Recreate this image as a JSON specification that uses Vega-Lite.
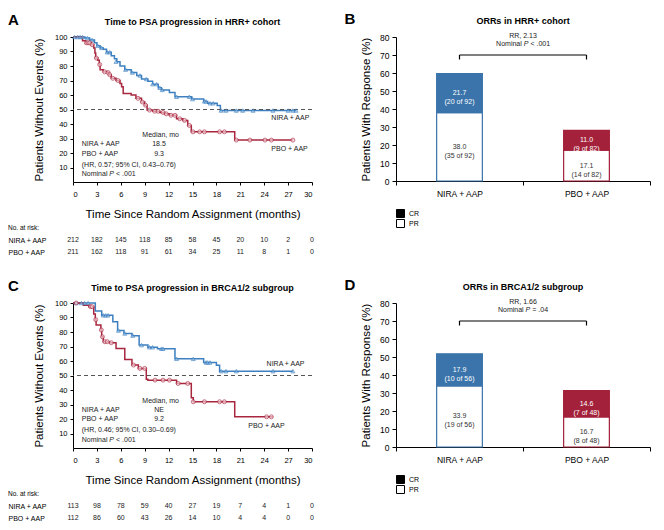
{
 "$schema": "https://vega.github.io/schema/vega-lite/v6.json",
 "padding": {"left": 8, "top": 12, "right": 4, "bottom": 4},
 "background": "white",
 "config": {
  "font": "Liberation Sans",
  "view": {"stroke": null},
  "axis": {"grid": false, "domainColor": "#000", "tickColor": "#000", "labelColor": "#000", "titleColor": "#000", "titleFontWeight": "normal", "labelOverlap": false},
  "title": {"color": "#000"}
 },
 "datasets": {
  "kmA": [
   {"arm":"NIRA + AAP","t":0,"surv":100},{"arm":"NIRA + AAP","t":1.5,"surv":99.3},{"arm":"NIRA + AAP","t":2.1,"surv":98},{"arm":"NIRA + AAP","t":2.7,"surv":96},{"arm":"NIRA + AAP","t":3.0,"surv":94},{"arm":"NIRA + AAP","t":3.4,"surv":92.5},{"arm":"NIRA + AAP","t":3.8,"surv":91.5},{"arm":"NIRA + AAP","t":4.2,"surv":89.5},{"arm":"NIRA + AAP","t":4.8,"surv":87},{"arm":"NIRA + AAP","t":5.2,"surv":85},{"arm":"NIRA + AAP","t":5.5,"surv":83},{"arm":"NIRA + AAP","t":5.9,"surv":80},{"arm":"NIRA + AAP","t":6.5,"surv":77.5},{"arm":"NIRA + AAP","t":7.3,"surv":75.5},{"arm":"NIRA + AAP","t":8.0,"surv":73.5},{"arm":"NIRA + AAP","t":8.6,"surv":71},{"arm":"NIRA + AAP","t":9.4,"surv":69.5},{"arm":"NIRA + AAP","t":10.0,"surv":67.5},{"arm":"NIRA + AAP","t":10.7,"surv":65},{"arm":"NIRA + AAP","t":11.1,"surv":63.5},{"arm":"NIRA + AAP","t":12.1,"surv":61.8},{"arm":"NIRA + AAP","t":12.8,"surv":58.8},{"arm":"NIRA + AAP","t":14.9,"surv":57.2},{"arm":"NIRA + AAP","t":16.4,"surv":55.6},{"arm":"NIRA + AAP","t":16.9,"surv":54.3},{"arm":"NIRA + AAP","t":18.1,"surv":52.8},{"arm":"NIRA + AAP","t":18.5,"surv":49.3},{"arm":"NIRA + AAP","t":28.0,"surv":49.3},
   {"arm":"PBO + AAP","t":0,"surv":100},{"arm":"PBO + AAP","t":1.2,"surv":97.5},{"arm":"PBO + AAP","t":1.6,"surv":96},{"arm":"PBO + AAP","t":2.3,"surv":94.7},{"arm":"PBO + AAP","t":2.6,"surv":92.5},{"arm":"PBO + AAP","t":2.75,"surv":89},{"arm":"PBO + AAP","t":2.85,"surv":85.5},{"arm":"PBO + AAP","t":3.1,"surv":84},{"arm":"PBO + AAP","t":3.3,"surv":81},{"arm":"PBO + AAP","t":3.4,"surv":77.4},{"arm":"PBO + AAP","t":3.8,"surv":76},{"arm":"PBO + AAP","t":4.3,"surv":75.5},{"arm":"PBO + AAP","t":4.5,"surv":74},{"arm":"PBO + AAP","t":4.8,"surv":71.5},{"arm":"PBO + AAP","t":5.4,"surv":70},{"arm":"PBO + AAP","t":5.9,"surv":68},{"arm":"PBO + AAP","t":6.1,"surv":65.7},{"arm":"PBO + AAP","t":6.3,"surv":61},{"arm":"PBO + AAP","t":7.3,"surv":60},{"arm":"PBO + AAP","t":7.9,"surv":57.7},{"arm":"PBO + AAP","t":8.6,"surv":55.2},{"arm":"PBO + AAP","t":9.0,"surv":53},{"arm":"PBO + AAP","t":9.3,"surv":49.6},{"arm":"PBO + AAP","t":10.0,"surv":48.8},{"arm":"PBO + AAP","t":10.9,"surv":48},{"arm":"PBO + AAP","t":11.5,"surv":47},{"arm":"PBO + AAP","t":12.1,"surv":46},{"arm":"PBO + AAP","t":13.0,"surv":43.6},{"arm":"PBO + AAP","t":13.8,"surv":42.5},{"arm":"PBO + AAP","t":14.4,"surv":39},{"arm":"PBO + AAP","t":14.85,"surv":34.6},{"arm":"PBO + AAP","t":20.3,"surv":28.9},{"arm":"PBO + AAP","t":27.6,"surv":28.9}
  ],
  "cenA": [
   {"arm":"NIRA + AAP","t":0.2,"surv":100},{"arm":"NIRA + AAP","t":0.6,"surv":100},{"arm":"NIRA + AAP","t":0.9,"surv":100},{"arm":"NIRA + AAP","t":1.2,"surv":100},{"arm":"NIRA + AAP","t":1.8,"surv":99.3},{"arm":"NIRA + AAP","t":2.4,"surv":98},{"arm":"NIRA + AAP","t":3.1,"surv":94},{"arm":"NIRA + AAP","t":3.6,"surv":92.5},{"arm":"NIRA + AAP","t":4.3,"surv":89.5},{"arm":"NIRA + AAP","t":4.6,"surv":89.5},{"arm":"NIRA + AAP","t":5.4,"surv":83},{"arm":"NIRA + AAP","t":6.6,"surv":77.5},{"arm":"NIRA + AAP","t":7.45,"surv":75.5},{"arm":"NIRA + AAP","t":8.4,"surv":73.5},{"arm":"NIRA + AAP","t":9.2,"surv":71},{"arm":"NIRA + AAP","t":10.0,"surv":67.5},{"arm":"NIRA + AAP","t":10.5,"surv":67.5},{"arm":"NIRA + AAP","t":10.9,"surv":65},{"arm":"NIRA + AAP","t":11.2,"surv":63.5},{"arm":"NIRA + AAP","t":13.0,"surv":58.8},{"arm":"NIRA + AAP","t":14.6,"surv":58.8},{"arm":"NIRA + AAP","t":15.0,"surv":57.2},{"arm":"NIRA + AAP","t":16.5,"surv":55.6},{"arm":"NIRA + AAP","t":16.7,"surv":55.6},{"arm":"NIRA + AAP","t":17.2,"surv":54.3},{"arm":"NIRA + AAP","t":17.6,"surv":54.3},{"arm":"NIRA + AAP","t":18.6,"surv":49.3},{"arm":"NIRA + AAP","t":19.2,"surv":49.3},{"arm":"NIRA + AAP","t":20.5,"surv":49.3},{"arm":"NIRA + AAP","t":21.3,"surv":49.3},{"arm":"NIRA + AAP","t":22.6,"surv":49.3},{"arm":"NIRA + AAP","t":25.1,"surv":49.3},{"arm":"NIRA + AAP","t":27.0,"surv":49.3},{"arm":"NIRA + AAP","t":27.6,"surv":49.3},{"arm":"NIRA + AAP","t":28.0,"surv":49.3},
   {"arm":"PBO + AAP","t":1.67,"surv":96},{"arm":"PBO + AAP","t":1.88,"surv":96},{"arm":"PBO + AAP","t":2.1,"surv":96},{"arm":"PBO + AAP","t":2.4,"surv":94.7},{"arm":"PBO + AAP","t":2.93,"surv":85.5},{"arm":"PBO + AAP","t":3.35,"surv":81},{"arm":"PBO + AAP","t":3.97,"surv":76},{"arm":"PBO + AAP","t":4.4,"surv":75.5},{"arm":"PBO + AAP","t":4.6,"surv":74},{"arm":"PBO + AAP","t":5.0,"surv":71.5},{"arm":"PBO + AAP","t":5.65,"surv":70},{"arm":"PBO + AAP","t":8.16,"surv":57.7},{"arm":"PBO + AAP","t":8.7,"surv":55.2},{"arm":"PBO + AAP","t":9.1,"surv":53},{"arm":"PBO + AAP","t":9.6,"surv":49.6},{"arm":"PBO + AAP","t":10.25,"surv":48.8},{"arm":"PBO + AAP","t":10.67,"surv":48.8},{"arm":"PBO + AAP","t":11.3,"surv":48},{"arm":"PBO + AAP","t":11.7,"surv":47},{"arm":"PBO + AAP","t":12.3,"surv":46},{"arm":"PBO + AAP","t":12.8,"surv":46},{"arm":"PBO + AAP","t":13.4,"surv":43.6},{"arm":"PBO + AAP","t":14.0,"surv":42.5},{"arm":"PBO + AAP","t":14.6,"surv":39},{"arm":"PBO + AAP","t":15.06,"surv":34.6},{"arm":"PBO + AAP","t":15.9,"surv":34.6},{"arm":"PBO + AAP","t":16.5,"surv":34.6},{"arm":"PBO + AAP","t":18.4,"surv":34.6},{"arm":"PBO + AAP","t":19.0,"surv":34.6},{"arm":"PBO + AAP","t":20.5,"surv":28.9},{"arm":"PBO + AAP","t":22.2,"surv":28.9},{"arm":"PBO + AAP","t":24.1,"surv":28.9},{"arm":"PBO + AAP","t":24.9,"surv":28.9},{"arm":"PBO + AAP","t":27.6,"surv":28.9}
  ],
  "kmC": [
   {"arm":"NIRA + AAP","t":0,"surv":100},{"arm":"NIRA + AAP","t":2.8,"surv":94.5},{"arm":"NIRA + AAP","t":3.6,"surv":91.5},{"arm":"NIRA + AAP","t":5.0,"surv":87},{"arm":"NIRA + AAP","t":5.6,"surv":81},{"arm":"NIRA + AAP","t":6.4,"surv":79},{"arm":"NIRA + AAP","t":7.4,"surv":77.5},{"arm":"NIRA + AAP","t":8.3,"surv":71},{"arm":"NIRA + AAP","t":9.4,"surv":69.5},{"arm":"NIRA + AAP","t":10.6,"surv":68.5},{"arm":"NIRA + AAP","t":12.8,"surv":61.5},{"arm":"NIRA + AAP","t":16.4,"surv":59},{"arm":"NIRA + AAP","t":18.0,"surv":57},{"arm":"NIRA + AAP","t":18.4,"surv":53},{"arm":"NIRA + AAP","t":27.6,"surv":53},
   {"arm":"PBO + AAP","t":0,"surv":100},{"arm":"PBO + AAP","t":1.3,"surv":98.5},{"arm":"PBO + AAP","t":2.0,"surv":97.5},{"arm":"PBO + AAP","t":2.6,"surv":92.5},{"arm":"PBO + AAP","t":2.8,"surv":88.5},{"arm":"PBO + AAP","t":2.9,"surv":84.8},{"arm":"PBO + AAP","t":3.5,"surv":81.4},{"arm":"PBO + AAP","t":3.6,"surv":76.7},{"arm":"PBO + AAP","t":3.8,"surv":73.3},{"arm":"PBO + AAP","t":4.6,"surv":72.6},{"arm":"PBO + AAP","t":5.4,"surv":68.7},{"arm":"PBO + AAP","t":6.5,"surv":61},{"arm":"PBO + AAP","t":7.4,"surv":57.2},{"arm":"PBO + AAP","t":8.2,"surv":54.9},{"arm":"PBO + AAP","t":9.2,"surv":47.5},{"arm":"PBO + AAP","t":9.4,"surv":46.8},{"arm":"PBO + AAP","t":13.0,"surv":44.5},{"arm":"PBO + AAP","t":14.85,"surv":34.6},{"arm":"PBO + AAP","t":15.1,"surv":31.9},{"arm":"PBO + AAP","t":20.3,"surv":21.5},{"arm":"PBO + AAP","t":25.1,"surv":21.5}
  ],
  "cenC": [
   {"arm":"NIRA + AAP","t":0.4,"surv":100},{"arm":"NIRA + AAP","t":1.05,"surv":100},{"arm":"NIRA + AAP","t":1.46,"surv":100},{"arm":"NIRA + AAP","t":1.9,"surv":100},{"arm":"NIRA + AAP","t":3.8,"surv":91.5},{"arm":"NIRA + AAP","t":4.1,"surv":91.5},{"arm":"NIRA + AAP","t":4.4,"surv":91.5},{"arm":"NIRA + AAP","t":5.7,"surv":81},{"arm":"NIRA + AAP","t":6.5,"surv":79},{"arm":"NIRA + AAP","t":7.5,"surv":77.5},{"arm":"NIRA + AAP","t":8.6,"surv":71},{"arm":"NIRA + AAP","t":9.6,"surv":69.5},{"arm":"NIRA + AAP","t":10.0,"surv":69.5},{"arm":"NIRA + AAP","t":11.1,"surv":68.5},{"arm":"NIRA + AAP","t":11.3,"surv":68.5},{"arm":"NIRA + AAP","t":13.0,"surv":61.5},{"arm":"NIRA + AAP","t":15.1,"surv":61.5},{"arm":"NIRA + AAP","t":16.7,"surv":59},{"arm":"NIRA + AAP","t":16.9,"surv":59},{"arm":"NIRA + AAP","t":17.2,"surv":59},{"arm":"NIRA + AAP","t":18.6,"surv":53},{"arm":"NIRA + AAP","t":19.2,"surv":53},{"arm":"NIRA + AAP","t":20.5,"surv":53},{"arm":"NIRA + AAP","t":25.1,"surv":53},{"arm":"NIRA + AAP","t":27.6,"surv":53},
   {"arm":"PBO + AAP","t":0.4,"surv":100},{"arm":"PBO + AAP","t":2.2,"surv":97.5},{"arm":"PBO + AAP","t":2.4,"surv":97.5},{"arm":"PBO + AAP","t":2.85,"surv":88.5},{"arm":"PBO + AAP","t":3.55,"surv":81.4},{"arm":"PBO + AAP","t":3.7,"surv":76.7},{"arm":"PBO + AAP","t":4.0,"surv":73.3},{"arm":"PBO + AAP","t":4.3,"surv":73.3},{"arm":"PBO + AAP","t":4.8,"surv":72.6},{"arm":"PBO + AAP","t":7.6,"surv":57.2},{"arm":"PBO + AAP","t":8.4,"surv":54.9},{"arm":"PBO + AAP","t":9.0,"surv":54.9},{"arm":"PBO + AAP","t":10.3,"surv":46.8},{"arm":"PBO + AAP","t":11.3,"surv":46.8},{"arm":"PBO + AAP","t":12.1,"surv":46.8},{"arm":"PBO + AAP","t":13.2,"surv":44.5},{"arm":"PBO + AAP","t":14.4,"surv":44.5},{"arm":"PBO + AAP","t":15.1,"surv":31.9},{"arm":"PBO + AAP","t":16.5,"surv":31.9},{"arm":"PBO + AAP","t":18.4,"surv":31.9},{"arm":"PBO + AAP","t":19.0,"surv":31.9},{"arm":"PBO + AAP","t":24.3,"surv":21.5},{"arm":"PBO + AAP","t":24.9,"surv":21.5}
  ],
  "annA": [
   {"t":1.1,"pct":26.5,"txt":"NIRA + AAP"},{"t":1.1,"pct":19.5,"txt":"PBO + AAP"},{"t":1.1,"pct":12,"txt":"(HR, 0.57; 95% CI, 0.43–0.76)"},{"t":1.1,"pct":5.2,"txt":"Nominal"},{"t":24.9,"pct":43.8,"txt":"NIRA + AAP"},{"t":24.9,"pct":22.9,"txt":"PBO + AAP"}
  ],
  "medA": [
   {"t":11.0,"pct":32.5,"txt":"Median, mo"},{"t":10.8,"pct":26.5,"txt":"18.5"},{"t":10.8,"pct":19.5,"txt":"9.3"}
  ],
  "annC": [
   {"t":1.1,"pct":26,"txt":"NIRA + AAP"},{"t":1.1,"pct":19.7,"txt":"PBO + AAP"},{"t":1.1,"pct":12.3,"txt":"(HR, 0.46; 95% CI, 0.30–0.69)"},{"t":1.1,"pct":5.7,"txt":"Nominal"},{"t":24.3,"pct":58,"txt":"NIRA + AAP"},{"t":22.0,"pct":15,"txt":"PBO + AAP"}
  ],
  "medC": [
   {"t":11.0,"pct":32.3,"txt":"Median, mo"},{"t":10.8,"pct":26,"txt":"NE"},{"t":10.8,"pct":19.7,"txt":"9.2"}
  ],
  "riskA": [
   {"arm":"NIRA + AAP","t":0,"n":212},{"arm":"NIRA + AAP","t":3,"n":182},{"arm":"NIRA + AAP","t":6,"n":145},{"arm":"NIRA + AAP","t":9,"n":118},{"arm":"NIRA + AAP","t":12,"n":85},{"arm":"NIRA + AAP","t":15,"n":58},{"arm":"NIRA + AAP","t":18,"n":45},{"arm":"NIRA + AAP","t":21,"n":20},{"arm":"NIRA + AAP","t":24,"n":10},{"arm":"NIRA + AAP","t":27,"n":2},{"arm":"NIRA + AAP","t":30,"n":0},
   {"arm":"PBO + AAP","t":0,"n":211},{"arm":"PBO + AAP","t":3,"n":162},{"arm":"PBO + AAP","t":6,"n":118},{"arm":"PBO + AAP","t":9,"n":91},{"arm":"PBO + AAP","t":12,"n":61},{"arm":"PBO + AAP","t":15,"n":34},{"arm":"PBO + AAP","t":18,"n":25},{"arm":"PBO + AAP","t":21,"n":11},{"arm":"PBO + AAP","t":24,"n":8},{"arm":"PBO + AAP","t":27,"n":1},{"arm":"PBO + AAP","t":30,"n":0}
  ],
  "riskC": [
   {"arm":"NIRA + AAP","t":0,"n":113},{"arm":"NIRA + AAP","t":3,"n":98},{"arm":"NIRA + AAP","t":6,"n":78},{"arm":"NIRA + AAP","t":9,"n":59},{"arm":"NIRA + AAP","t":12,"n":40},{"arm":"NIRA + AAP","t":15,"n":27},{"arm":"NIRA + AAP","t":18,"n":19},{"arm":"NIRA + AAP","t":21,"n":7},{"arm":"NIRA + AAP","t":24,"n":4},{"arm":"NIRA + AAP","t":27,"n":1},{"arm":"NIRA + AAP","t":30,"n":0},
   {"arm":"PBO + AAP","t":0,"n":112},{"arm":"PBO + AAP","t":3,"n":86},{"arm":"PBO + AAP","t":6,"n":60},{"arm":"PBO + AAP","t":9,"n":43},{"arm":"PBO + AAP","t":12,"n":26},{"arm":"PBO + AAP","t":15,"n":14},{"arm":"PBO + AAP","t":18,"n":10},{"arm":"PBO + AAP","t":21,"n":4},{"arm":"PBO + AAP","t":24,"n":4},{"arm":"PBO + AAP","t":27,"n":0},{"arm":"PBO + AAP","t":30,"n":0}
  ],
  "orrB": [
   {"arm":"NIRA + AAP","resp":"PR","pct":38.0,"label":"38.0\n(35 of 92)"},
   {"arm":"NIRA + AAP","resp":"CR","pct":21.7,"label":"21.7\n(20 of 92)"},
   {"arm":"PBO + AAP","resp":"PR","pct":17.1,"label":"17.1\n(14 of 82)"},
   {"arm":"PBO + AAP","resp":"CR","pct":11.0,"label":"11.0\n(9 of 82)"}
  ],
  "orrD": [
   {"arm":"NIRA + AAP","resp":"PR","pct":33.9,"label":"33.9\n(19 of 56)"},
   {"arm":"NIRA + AAP","resp":"CR","pct":17.9,"label":"17.9\n(10 of 56)"},
   {"arm":"PBO + AAP","resp":"PR","pct":16.7,"label":"16.7\n(8 of 48)"},
   {"arm":"PBO + AAP","resp":"CR","pct":14.6,"label":"14.6\n(7 of 48)"}
  ]
 },
 "columns": 2,
 "spacing": {"row": 20, "column": 30},
 "resolve": {"scale": {"x": "independent", "y": "independent", "color": "independent", "fill": "independent", "stroke": "independent", "shape": "independent"}, "axis": {"x": "independent", "y": "independent"}, "legend": {"color": "independent"}},
 "concat": [
  {
   "title": {"text": "A", "anchor": "start", "frame": "bounds", "fontSize": 15, "fontWeight": "bold", "offset": 0, "dy": 10},
   "spacing": 4,
   "resolve": {"scale": {"x": "independent", "y": "independent"}, "axis": {"x": "independent", "y": "independent"}},
   "vconcat": [
    {
     "width": 239, "height": 145,
     "title": {"text": "Time to PSA progression in HRR+ cohort", "fontSize": 9, "fontWeight": "bold", "offset": 6},
     "layer": [
      {"data": {"name": "kmA"}, "mark": {"type": "line", "interpolate": "step-after", "strokeWidth": 1.5},
       "encoding": {
        "x": {"field": "t", "type": "quantitative", "scale": {"domain": [0, 30], "nice": false}, "axis": {"values": [0,3,6,9,12,15,18,21,24,27,30], "tickCount": 30, "labelOverlap": false, "title": "Time Since Random Assignment (months)", "titleFontSize": 11.5, "titleFontWeight": "normal", "labelFontSize": 7.5, "tickSize": 3, "labelPadding": 5, "titlePadding": 11}},
        "y": {"field": "surv", "type": "quantitative", "scale": {"domain": [0, 100]}, "axis": {"values": [10,20,30,40,50,60,70,80,90,100], "tickCount": 30, "labelOverlap": false, "title": "Patients Without Events (%)", "titleFontSize": 11.5, "titleFontWeight": "normal", "labelFontSize": 7.5, "tickSize": 3, "labelPadding": 3, "titlePadding": 10}},
        "color": {"field": "arm", "type": "nominal", "scale": {"domain": ["NIRA + AAP", "PBO + AAP"], "range": ["#3d7fbf", "#a8273f"]}, "legend": null}
       }},
      {"data": {"values": [{"ref": 50}]}, "mark": {"type": "rule", "color": "#555", "strokeDash": [4, 3], "strokeWidth": 1}, "encoding": {"y": {"field": "ref", "type": "quantitative"}}},
      {"data": {"name": "cenA"}, "mark": {"type": "point", "filled": true, "size": 16, "strokeWidth": 0.9},
       "encoding": {
        "x": {"field": "t", "type": "quantitative"},
        "y": {"field": "surv", "type": "quantitative"},
        "shape": {"field": "arm", "type": "nominal", "scale": {"domain": ["NIRA + AAP", "PBO + AAP"], "range": ["triangle-up", "circle"]}, "legend": null},
        "fill": {"field": "arm", "type": "nominal", "scale": {"domain": ["NIRA + AAP", "PBO + AAP"], "range": ["#8fbde3", "#f3d0d7"]}, "legend": null},
        "stroke": {"field": "arm", "type": "nominal", "scale": {"domain": ["NIRA + AAP", "PBO + AAP"], "range": ["#3d7fbf", "#a8273f"]}, "legend": null}
       }},
      {"data": {"name": "annA"}, "mark": {"type": "text", "align": "left", "baseline": "middle", "fontSize": 7, "color": "#222"},
       "encoding": {"x": {"field": "t", "type": "quantitative"}, "y": {"field": "pct", "type": "quantitative"}, "text": {"field": "txt"}}},
      {"data": {"values": [{"txt": "P"}]}, "mark": {"type": "text", "align": "left", "baseline": "middle", "fontSize": 7, "fontStyle": "italic", "color": "#222", "dx": 27.6},
       "encoding": {"x": {"datum": 1.1, "type": "quantitative"}, "y": {"datum": 5.2, "type": "quantitative"}, "text": {"field": "txt"}}},
      {"data": {"values": [{"txt": "< .001"}]}, "mark": {"type": "text", "align": "left", "baseline": "middle", "fontSize": 7, "color": "#222", "dx": 34.3},
       "encoding": {"x": {"datum": 1.1, "type": "quantitative"}, "y": {"datum": 5.2, "type": "quantitative"}, "text": {"field": "txt"}}},
      {"data": {"name": "medA"}, "mark": {"type": "text", "align": "center", "baseline": "middle", "fontSize": 7, "color": "#222"},
       "encoding": {"x": {"field": "t", "type": "quantitative"}, "y": {"field": "pct", "type": "quantitative"}, "text": {"field": "txt"}}}
     ]
    },
    {
     "width": 239, "height": 24,
     "title": {"text": "No. at risk:", "anchor": "start", "frame": "bounds", "fontSize": 6.5, "fontWeight": "normal", "offset": 3},
     "data": {"name": "riskA"},
     "mark": {"type": "text", "fontSize": 7, "color": "#222"},
     "encoding": {
      "x": {"field": "t", "type": "quantitative", "scale": {"domain": [0, 30], "nice": false}, "axis": null},
      "y": {"field": "arm", "type": "nominal", "scale": {"domain": ["NIRA + AAP", "PBO + AAP"]}, "axis": {"title": null, "domain": false, "ticks": false, "labelAlign": "left", "labelPadding": 65, "labelFontSize": 7}},
      "text": {"field": "n"}
     }
    }
   ]
  },
  {
   "title": {"text": "B", "anchor": "start", "frame": "bounds", "fontSize": 15, "fontWeight": "bold", "offset": 0, "dy": 10, "dx": -16},
   "resolve": {"legend": {"color": "independent"}, "scale": {"color": "independent"}},
   "vconcat": [
    {
     "width": 254, "height": 144,
     "title": {"text": "ORRs in HRR+ cohort", "fontSize": 9, "fontWeight": "bold", "offset": 6},
     "layer": [
      {"data": {"name": "orrB"}, "mark": {"type": "bar", "width": {"band": 0.36}, "strokeWidth": 1.2},
       "encoding": {
        "x": {"field": "arm", "type": "nominal", "scale": {"domain": ["NIRA + AAP", "PBO + AAP"], "paddingInner": 0, "paddingOuter": 0}, "axis": {"title": null, "labelAngle": 0, "labelFontSize": 8.5, "tickBand": "extent", "tickSize": 4, "labelPadding": 4}},
        "y": {"field": "pct", "type": "quantitative", "stack": "zero", "scale": {"domain": [0, 80]}, "axis": {"values": [0,10,20,30,40,50,60,70,80], "tickCount": 30, "labelOverlap": false, "title": "Patients With Response (%)", "titleFontSize": 11.5, "titleFontWeight": "normal", "labelFontSize": 8.5, "tickSize": 4, "labelPadding": 3, "titlePadding": 8}},
        "order": {"field": "resp", "sort": "descending"},
        "fill": {"condition": {"test": "datum.resp === 'PR'", "value": "white"}, "field": "arm", "type": "nominal", "scale": {"domain": ["NIRA + AAP", "PBO + AAP"], "range": ["#3a74ab", "#a3213a"]}, "legend": null},
        "stroke": {"field": "arm", "type": "nominal", "scale": {"domain": ["NIRA + AAP", "PBO + AAP"], "range": ["#3a74ab", "#a3213a"]}, "legend": null}
       }},
      {"data": {"name": "orrB"},
       "transform": [
        {"stack": "pct", "groupby": ["arm"], "sort": [{"field": "resp", "order": "descending"}], "as": ["y0", "y1"]},
        {"fold": ["y0", "y1"], "as": ["edge", "yv"]},
        {"aggregate": [{"op": "mean", "field": "yv", "as": "ymid"}], "groupby": ["arm", "resp", "label"]}
       ],
       "mark": {"type": "text", "fontSize": 7, "lineBreak": "\n", "lineHeight": 9, "baseline": "middle"},
       "encoding": {
        "x": {"field": "arm", "type": "nominal"},
        "y": {"field": "ymid", "type": "quantitative"},
        "text": {"field": "label"},
        "color": {"condition": {"test": "datum.resp === 'CR'", "value": "white"}, "value": "#333"}
       }},
      {"data": {"values": [{"lvl": 70}]}, "mark": {"type": "rule", "strokeWidth": 1.2, "color": "#000"},
       "encoding": {"x": {"datum": "NIRA + AAP", "type": "nominal"}, "x2": {"datum": "PBO + AAP"}, "y": {"field": "lvl", "type": "quantitative"}}},
      {"data": {"name": "orrB"}, "transform": [{"filter": "datum.resp === 'CR'"}], "mark": {"type": "rule", "strokeWidth": 1.2, "color": "#000"},
       "encoding": {"x": {"field": "arm", "type": "nominal"}, "y": {"datum": 67.5}, "y2": {"datum": 70}}},
      {"data": {"values": [{"txt": "RR, 2.13"}]}, "mark": {"type": "text", "fontSize": 7, "baseline": "middle", "color": "#222"},
       "encoding": {"x": {"datum": "NIRA + AAP", "type": "nominal", "bandPosition": 1}, "y": {"datum": 80.3}, "text": {"field": "txt"}}},
      {"data": {"values": [{"txt": "Nominal"}]}, "mark": {"type": "text", "fontSize": 7, "align": "left", "baseline": "middle", "color": "#222", "dx": -26.9},
       "encoding": {"x": {"datum": "NIRA + AAP", "type": "nominal", "bandPosition": 1}, "y": {"datum": 75.9}, "text": {"field": "txt"}}},
      {"data": {"values": [{"txt": "P"}]}, "mark": {"type": "text", "fontSize": 7, "align": "left", "baseline": "middle", "fontStyle": "italic", "color": "#222", "dx": 0.7},
       "encoding": {"x": {"datum": "NIRA + AAP", "type": "nominal", "bandPosition": 1}, "y": {"datum": 75.9}, "text": {"field": "txt"}}},
      {"data": {"values": [{"txt": "< .001"}]}, "mark": {"type": "text", "fontSize": 7, "align": "left", "baseline": "middle", "color": "#222", "dx": 7.4},
       "encoding": {"x": {"datum": "NIRA + AAP", "type": "nominal", "bandPosition": 1}, "y": {"datum": 75.9}, "text": {"field": "txt"}}},
      {"data": {"name": "orrB"}, "transform": [{"filter": "datum.resp === 'none'"}], "mark": {"type": "square", "stroke": "black", "strokeWidth": 1, "size": 64},
       "encoding": {"color": {"field": "resp", "type": "nominal", "scale": {"domain": ["CR", "PR"], "range": ["black", "white"]}, "legend": {"title": null, "orient": "bottom", "direction": "vertical", "symbolType": "square", "symbolSize": 64, "symbolStrokeColor": "black", "symbolStrokeWidth": 1, "symbolOpacity": 1, "labelFontSize": 7, "rowPadding": 1, "clipHeight": 9, "offset": 11, "padding": 0}}}}
     ]
    }
   ]
  },
  {
   "title": {"text": "C", "anchor": "start", "frame": "bounds", "fontSize": 15, "fontWeight": "bold", "offset": 0, "dy": 10},
   "spacing": 4,
   "resolve": {"scale": {"x": "independent", "y": "independent"}, "axis": {"x": "independent", "y": "independent"}},
   "vconcat": [
    {
     "width": 239, "height": 145,
     "title": {"text": "Time to PSA progression in BRCA1/2 subgroup", "fontSize": 9, "fontWeight": "bold", "offset": 6},
     "layer": [
      {"data": {"name": "kmC"}, "mark": {"type": "line", "interpolate": "step-after", "strokeWidth": 1.5},
       "encoding": {
        "x": {"field": "t", "type": "quantitative", "scale": {"domain": [0, 30], "nice": false}, "axis": {"values": [0,3,6,9,12,15,18,21,24,27,30], "tickCount": 30, "labelOverlap": false, "title": "Time Since Random Assignment (months)", "titleFontSize": 11.5, "titleFontWeight": "normal", "labelFontSize": 7.5, "tickSize": 3, "labelPadding": 5, "titlePadding": 11}},
        "y": {"field": "surv", "type": "quantitative", "scale": {"domain": [0, 100]}, "axis": {"values": [10,20,30,40,50,60,70,80,90,100], "tickCount": 30, "labelOverlap": false, "title": "Patients Without Events (%)", "titleFontSize": 11.5, "titleFontWeight": "normal", "labelFontSize": 7.5, "tickSize": 3, "labelPadding": 3, "titlePadding": 10}},
        "color": {"field": "arm", "type": "nominal", "scale": {"domain": ["NIRA + AAP", "PBO + AAP"], "range": ["#3d7fbf", "#a8273f"]}, "legend": null}
       }},
      {"data": {"values": [{"ref": 50}]}, "mark": {"type": "rule", "color": "#555", "strokeDash": [4, 3], "strokeWidth": 1}, "encoding": {"y": {"field": "ref", "type": "quantitative"}}},
      {"data": {"name": "cenC"}, "mark": {"type": "point", "filled": true, "size": 16, "strokeWidth": 0.9},
       "encoding": {
        "x": {"field": "t", "type": "quantitative"},
        "y": {"field": "surv", "type": "quantitative"},
        "shape": {"field": "arm", "type": "nominal", "scale": {"domain": ["NIRA + AAP", "PBO + AAP"], "range": ["triangle-up", "circle"]}, "legend": null},
        "fill": {"field": "arm", "type": "nominal", "scale": {"domain": ["NIRA + AAP", "PBO + AAP"], "range": ["#8fbde3", "#f3d0d7"]}, "legend": null},
        "stroke": {"field": "arm", "type": "nominal", "scale": {"domain": ["NIRA + AAP", "PBO + AAP"], "range": ["#3d7fbf", "#a8273f"]}, "legend": null}
       }},
      {"data": {"name": "annC"}, "mark": {"type": "text", "align": "left", "baseline": "middle", "fontSize": 7, "color": "#222"},
       "encoding": {"x": {"field": "t", "type": "quantitative"}, "y": {"field": "pct", "type": "quantitative"}, "text": {"field": "txt"}}},
      {"data": {"values": [{"txt": "P"}]}, "mark": {"type": "text", "align": "left", "baseline": "middle", "fontSize": 7, "fontStyle": "italic", "color": "#222", "dx": 27.6},
       "encoding": {"x": {"datum": 1.1, "type": "quantitative"}, "y": {"datum": 5.7, "type": "quantitative"}, "text": {"field": "txt"}}},
      {"data": {"values": [{"txt": "< .001"}]}, "mark": {"type": "text", "align": "left", "baseline": "middle", "fontSize": 7, "color": "#222", "dx": 34.3},
       "encoding": {"x": {"datum": 1.1, "type": "quantitative"}, "y": {"datum": 5.7, "type": "quantitative"}, "text": {"field": "txt"}}},
      {"data": {"name": "medC"}, "mark": {"type": "text", "align": "center", "baseline": "middle", "fontSize": 7, "color": "#222"},
       "encoding": {"x": {"field": "t", "type": "quantitative"}, "y": {"field": "pct", "type": "quantitative"}, "text": {"field": "txt"}}}
     ]
    },
    {
     "width": 239, "height": 24,
     "title": {"text": "No. at risk:", "anchor": "start", "frame": "bounds", "fontSize": 6.5, "fontWeight": "normal", "offset": 3},
     "data": {"name": "riskC"},
     "mark": {"type": "text", "fontSize": 7, "color": "#222"},
     "encoding": {
      "x": {"field": "t", "type": "quantitative", "scale": {"domain": [0, 30], "nice": false}, "axis": null},
      "y": {"field": "arm", "type": "nominal", "scale": {"domain": ["NIRA + AAP", "PBO + AAP"]}, "axis": {"title": null, "domain": false, "ticks": false, "labelAlign": "left", "labelPadding": 65, "labelFontSize": 7}},
      "text": {"field": "n"}
     }
    }
   ]
  },
  {
   "title": {"text": "D", "anchor": "start", "frame": "bounds", "fontSize": 15, "fontWeight": "bold", "offset": 0, "dy": 10, "dx": -16},
   "resolve": {"legend": {"color": "independent"}, "scale": {"color": "independent"}},
   "vconcat": [
    {
     "width": 254, "height": 144,
     "title": {"text": "ORRs in BRCA1/2 subgroup", "fontSize": 9, "fontWeight": "bold", "offset": 6},
     "layer": [
      {"data": {"name": "orrD"}, "mark": {"type": "bar", "width": {"band": 0.36}, "strokeWidth": 1.2},
       "encoding": {
        "x": {"field": "arm", "type": "nominal", "scale": {"domain": ["NIRA + AAP", "PBO + AAP"], "paddingInner": 0, "paddingOuter": 0}, "axis": {"title": null, "labelAngle": 0, "labelFontSize": 8.5, "tickBand": "extent", "tickSize": 4, "labelPadding": 4}},
        "y": {"field": "pct", "type": "quantitative", "stack": "zero", "scale": {"domain": [0, 80]}, "axis": {"values": [0,10,20,30,40,50,60,70,80], "tickCount": 30, "labelOverlap": false, "title": "Patients With Response (%)", "titleFontSize": 11.5, "titleFontWeight": "normal", "labelFontSize": 8.5, "tickSize": 4, "labelPadding": 3, "titlePadding": 8}},
        "order": {"field": "resp", "sort": "descending"},
        "fill": {"condition": {"test": "datum.resp === 'PR'", "value": "white"}, "field": "arm", "type": "nominal", "scale": {"domain": ["NIRA + AAP", "PBO + AAP"], "range": ["#3a74ab", "#a3213a"]}, "legend": null},
        "stroke": {"field": "arm", "type": "nominal", "scale": {"domain": ["NIRA + AAP", "PBO + AAP"], "range": ["#3a74ab", "#a3213a"]}, "legend": null}
       }},
      {"data": {"name": "orrD"},
       "transform": [
        {"stack": "pct", "groupby": ["arm"], "sort": [{"field": "resp", "order": "descending"}], "as": ["y0", "y1"]},
        {"fold": ["y0", "y1"], "as": ["edge", "yv"]},
        {"aggregate": [{"op": "mean", "field": "yv", "as": "ymid"}], "groupby": ["arm", "resp", "label"]}
       ],
       "mark": {"type": "text", "fontSize": 7, "lineBreak": "\n", "lineHeight": 9, "baseline": "middle"},
       "encoding": {
        "x": {"field": "arm", "type": "nominal"},
        "y": {"field": "ymid", "type": "quantitative"},
        "text": {"field": "label"},
        "color": {"condition": {"test": "datum.resp === 'CR'", "value": "white"}, "value": "#333"}
       }},
      {"data": {"values": [{"lvl": 70}]}, "mark": {"type": "rule", "strokeWidth": 1.2, "color": "#000"},
       "encoding": {"x": {"datum": "NIRA + AAP", "type": "nominal"}, "x2": {"datum": "PBO + AAP"}, "y": {"field": "lvl", "type": "quantitative"}}},
      {"data": {"name": "orrD"}, "transform": [{"filter": "datum.resp === 'CR'"}], "mark": {"type": "rule", "strokeWidth": 1.2, "color": "#000"},
       "encoding": {"x": {"field": "arm", "type": "nominal"}, "y": {"datum": 67.5}, "y2": {"datum": 70}}},
      {"data": {"values": [{"txt": "RR, 1.66"}]}, "mark": {"type": "text", "fontSize": 7, "baseline": "middle", "color": "#222"},
       "encoding": {"x": {"datum": "NIRA + AAP", "type": "nominal", "bandPosition": 1}, "y": {"datum": 80.3}, "text": {"field": "txt"}}},
      {"data": {"values": [{"txt": "Nominal"}]}, "mark": {"type": "text", "fontSize": 7, "align": "left", "baseline": "middle", "color": "#222", "dx": -25},
       "encoding": {"x": {"datum": "NIRA + AAP", "type": "nominal", "bandPosition": 1}, "y": {"datum": 75.9}, "text": {"field": "txt"}}},
      {"data": {"values": [{"txt": "P"}]}, "mark": {"type": "text", "fontSize": 7, "align": "left", "baseline": "middle", "fontStyle": "italic", "color": "#222", "dx": 2.6},
       "encoding": {"x": {"datum": "NIRA + AAP", "type": "nominal", "bandPosition": 1}, "y": {"datum": 75.9}, "text": {"field": "txt"}}},
      {"data": {"values": [{"txt": "= .04"}]}, "mark": {"type": "text", "fontSize": 7, "align": "left", "baseline": "middle", "color": "#222", "dx": 9.3},
       "encoding": {"x": {"datum": "NIRA + AAP", "type": "nominal", "bandPosition": 1}, "y": {"datum": 75.9}, "text": {"field": "txt"}}},
      {"data": {"name": "orrD"}, "transform": [{"filter": "datum.resp === 'none'"}], "mark": {"type": "square", "stroke": "black", "strokeWidth": 1, "size": 64},
       "encoding": {"color": {"field": "resp", "type": "nominal", "scale": {"domain": ["CR", "PR"], "range": ["black", "white"]}, "legend": {"title": null, "orient": "bottom", "direction": "vertical", "symbolType": "square", "symbolSize": 64, "symbolStrokeColor": "black", "symbolStrokeWidth": 1, "symbolOpacity": 1, "labelFontSize": 7, "rowPadding": 1, "clipHeight": 9, "offset": 11, "padding": 0}}}}
     ]
    }
   ]
  }
 ]
}
